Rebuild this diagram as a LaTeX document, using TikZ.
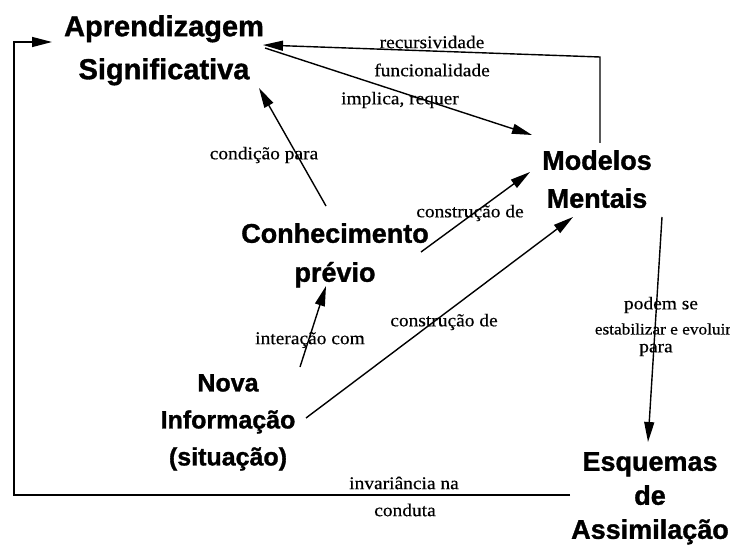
\documentclass[tikz,border=0pt]{standalone}
\usepackage{fontspec}
\setmainfont{Liberation Serif}
\newfontfamily\conceptfont[BoldFeatures={FakeBold=1.2}]{Liberation Sans}
\newfontfamily\labelfont[FakeStretch=1.08,FakeBold=0.4]{Liberation Serif}
\usetikzlibrary{arrows.meta,calc}
\begin{document}
\begin{tikzpicture}[x=1pt,y=-1pt,
  concept/.style 2 args={align=center,anchor=north,inner sep=0pt,
    font=\conceptfont\bfseries\fontsize{#1}{#2}\selectfont},
  lbl/.style={font=\labelfont\fontsize{18}{22}\selectfont,inner sep=0pt},
  arr/.style={line width=1.4pt,-{Triangle[length=20pt,width=10pt]}}]
\useasboundingbox (0,0) rectangle (730,545);

% concepts
\node[concept={29}{43}] (ap) at (164,15) {Aprendizagem\\Significativa};
\node[concept={27}{38}] (mm) at (597,150) {Modelos\\Mentais};
\node[concept={27}{39}] (ch) at (335,223) {Conhecimento\\prévio};
\node[concept={25}{37}] (nv) at (228,374) {Nova\\Informação\\(situação)};
\node[concept={27}{34}] (es) at (650,452) {Esquemas\\de\\Assimilação};

% connectors
\draw[arr] ($(mm.north)+(3,-7)$) -- ($(mm.north)+(3,-93)$) -- ($(ap.north)+(99,30)$);
\draw[arr] ($(ap.north)+(101,33)$) -- ($(mm.north)+(-65,-15)$);
\draw[arr] ($(ch.north)+(-9,-17)$) -- ($(ap.north)+(95,73)$);
\draw[arr] ($(ch.north)+(86,29)$) -- ($(mm.north)+(-67,22)$);
\draw[arr] ($(nv.north)+(78,44)$) -- ($(mm.north)+(-24,67)$);
\draw[arr] ($(nv.north)+(72,-7)$) -- ($(ch.north)+(-9,63)$);
\draw[arr] ($(mm.north)+(65,67)$) -- ($(es.north)+(-2,-10)$);
\draw[arr] ($(es.north)+(-80,43)$) -- ++(-556,0) |- ($(ap.north)+(-112,27)$);

% labels
\node[lbl] (l1) at (432,42) {recursividade};
\node[lbl] (l2) at (432,70) {funcionalidade};
\node[lbl] (l3) at (400,100) {implica, requer};
\node[lbl] (l4) at (264,155) {condição para};
\node[lbl] (l5) at (470,213) {construção de};
\node[lbl] (l6) at (444,322) {construção de};
\node[lbl] (l7) at (310,340) {interação com};
\node[lbl] (l8) at (661,305) {podem se};
\node[lbl,font=\labelfont\fontsize{16}{20}\selectfont] (l9) at (663,329) {estabilizar e evoluir};
\node[lbl] (l10) at (656,350) {para};
\node[lbl] (l11) at (404,483) {invariância na};
\node[lbl] (l12) at (405,510) {conduta};
\end{tikzpicture}
\end{document}
